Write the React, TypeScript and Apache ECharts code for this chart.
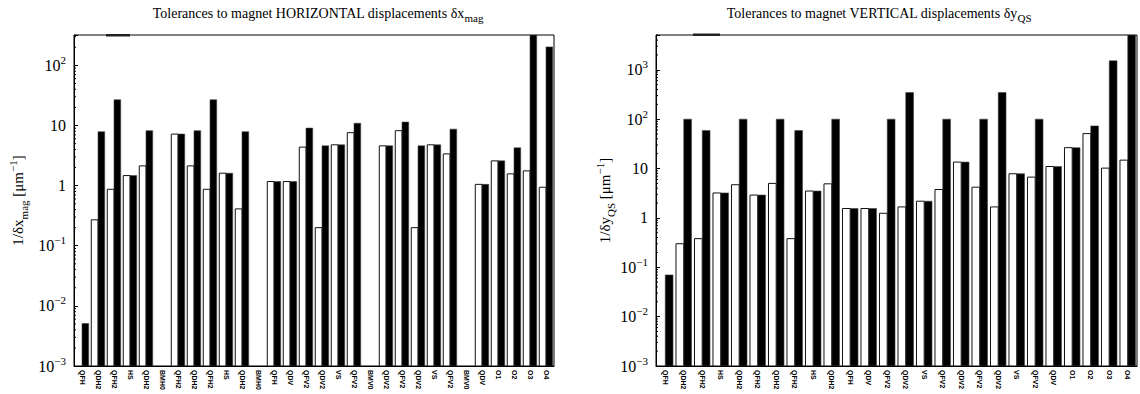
import React, { useEffect, useRef } from 'react';
import * as echarts from 'echarts';

// Horizontal displacement tolerances 1/δx_mag [µm^-1]
const hCategories = [
  'QFH', 'QDH2', 'QFH2', 'HS', 'QDH2', 'BMH0', 'QFH2', 'QDH2', 'QFH2', 'HS',
  'QDH2', 'BMH0', 'QFH', 'QDV', 'QFV2', 'QDV2', 'VS', 'QFV2', 'BMV0', 'QDV2',
  'QFV2', 'QDV2', 'VS', 'QFV2', 'BMV0', 'QDV', 'O1', 'O2', 'O3', 'O4',
];
const hWhite = [
  null, 0.27, 0.87, 1.47, 2.13, null, 7.2, 2.13, 0.87, 1.61,
  0.41, null, 1.17, 1.17, 4.37, 0.2, 4.77, 7.6, null, 4.59,
  8.2, 0.2, 4.77, 3.37, null, 1.05, 2.58, 1.57, 1.76, 0.94,
];
const hBlack = [
  0.0051, 7.9, 26.8, 1.47, 8.2, null, 7.2, 8.2, 26.8, 1.61,
  7.9, null, 1.17, 1.17, 9.05, 4.59, 4.77, 10.9, null, 4.59,
  11.4, 4.59, 4.77, 8.7, null, 1.05, 2.58, 4.25, 320, 203,
];

// Vertical displacement tolerances 1/δy_QS [µm^-1]
const vCategories = [
  'QFH', 'QDH2', 'QFH2', 'HS', 'QDH2', 'QFH2', 'QDH2', 'QFH2', 'HS', 'QDH2',
  'QFH', 'QDV', 'QFV2', 'QDV2', 'VS', 'QFV2', 'QDV2', 'QFV2', 'QDV2', 'VS',
  'QFV2', 'QDV', 'O1', 'O2', 'O3', 'O4',
];
const vWhite = [
  null, 0.3, 0.38, 3.2, 4.7, 2.9, 5.0, 0.38, 3.5, 4.9,
  1.55, 1.55, 1.24, 1.67, 2.18, 3.76, 13.5, 4.19, 1.67, 7.84,
  6.7, 11.0, 26.5, 51, 10.2, 14.8,
];
const vBlack = [
  0.07, 100, 59, 3.2, 100, 2.9, 100, 59, 3.5, 100,
  1.55, 1.55, 100, 347, 2.18, 100, 13.5, 100, 347, 7.84,
  100, 11.0, 26.5, 73, 1520, 5070,
];

const titles = [
  'Tolerances to magnet HORIZONTAL displacements δx{sub|mag}',
  'Tolerances to magnet VERTICAL displacements δy{sub|QS}',
];
const axisNames = [
  '1/δx{sub|mag} [μm{sup|\u22121}]',
  '1/δy{sub|QS} [μm{sup|\u22121}]',
];

const AXIS_MIN = 0.001;

const SERIF = '"Liberation Serif", "DejaVu Serif", serif';
const SANS = '"Liberation Sans", Arial, sans-serif';

const GRIDS = [
  { left: 74, top: 35, width: 480, height: 331 },
  { left: 656, top: 35, width: 481, height: 331 },
];
const TITLE_CENTERS = [318, 879];

const seriesMax = (a: (number | null)[], b: (number | null)[]) =>
  Math.max(...(a.filter((v) => v != null) as number[]), ...(b.filter((v) => v != null) as number[]));

function powLabel(v: number): string {
  const e = Math.log10(v);
  const r = Math.round(e);
  if (Math.abs(e - r) > 1e-6) return '';
  if (r === 0) return '1';
  if (r === 1) return '10';
  return `{b|10}{s|${r < 0 ? '\u2212' + -r : r}}`;
}

function makeBarRenderer(side: 'white' | 'black') {
  return (_params: any, api: any) => {
    const v = api.value(1);
    if (!(v > 0)) return null;
    const cat = api.value(0);
    const top = api.coord([cat, v]);
    const base = api.coord([cat, AXIS_MIN]);
    const bw = api.size([1, 0])[0];
    const w = bw * 0.42;
    const x = side === 'white' ? top[0] - w : top[0];
    return {
      type: 'rect',
      shape: { x, y: top[1], width: w, height: base[1] - top[1] },
      style:
        side === 'white'
          ? { fill: '#fff', stroke: '#111', lineWidth: 1 }
          : { fill: '#000', stroke: '#444', lineWidth: 0.6 },
    };
  };
}

export default function App() {
  const ref = useRef<HTMLDivElement>(null);

  useEffect(() => {
    if (!ref.current) return;
    const chart = echarts.init(ref.current, undefined, { renderer: 'svg' });

    const cats = [hCategories, vCategories];
    const whites = [hWhite, vWhite];
    const blacks = [hBlack, vBlack];
    const maxes = [seriesMax(hWhite, hBlack), seriesMax(vWhite, vBlack)];

    const series: any[] = [];
    [0, 1].forEach((i) => {
      series.push({
        type: 'custom',
        name: 'white' + i,
        xAxisIndex: i,
        yAxisIndex: i,
        clip: true,
        encode: { x: 0, y: 1 },
        renderItem: makeBarRenderer('white'),
        data: whites[i].map((v, k) => [k, v == null ? '-' : v]),
      });
      series.push({
        type: 'custom',
        name: 'black' + i,
        xAxisIndex: i,
        yAxisIndex: i,
        clip: true,
        encode: { x: 0, y: 1 },
        renderItem: makeBarRenderer('black'),
        data: blacks[i].map((v, k) => [k, v == null ? '-' : v]),
      });
    });

    chart.setOption({
      animation: false,
      backgroundColor: '#fff',
      grid: GRIDS.map((g) => ({
        ...g,
        show: true,
        borderColor: '#000',
        borderWidth: 1,
        backgroundColor: 'transparent',
      })),
      xAxis: [0, 1].map((i) => ({
        type: 'category',
        gridIndex: i,
        data: cats[i],
        boundaryGap: true,
        axisLine: { show: true, lineStyle: { color: '#000', width: 1 } },
        axisTick: { show: false },
        splitLine: { show: false },
        axisLabel: {
          interval: 0,
          rotate: -90,
          fontSize: 7,
          fontWeight: 'bold',
          fontFamily: SANS,
          color: '#000',
          margin: 4,
        },
      })),
      yAxis: [0, 1].map((i) => ({
        type: 'log',
        logBase: 10,
        gridIndex: i,
        min: AXIS_MIN,
        max: maxes[i],
        splitLine: { show: false },
        axisLine: { show: true, lineStyle: { color: '#000', width: 1 } },
        axisTick: { show: true, inside: true, length: 4, lineStyle: { color: '#000' } },
        axisLabel: {
          formatter: powLabel,
          fontFamily: SERIF,
          fontSize: 16,
          color: '#000',
          margin: 8,
          rich: {
            b: { fontFamily: SERIF, fontSize: 16, color: '#000', lineHeight: 22 },
            s: { fontFamily: SERIF, fontSize: 11, color: '#000', lineHeight: 11, verticalAlign: 'top' },
          },
        },
        name: axisNames[i],
        nameLocation: 'middle',
        nameRotate: 90,
        nameGap: i === 0 ? 45 : 40,
        nameTextStyle: {
          fontFamily: SERIF,
          fontSize: 15,
          color: '#000',
          lineHeight: 22,
          rich: {
            sub: { fontFamily: SERIF, fontSize: 11, color: '#000', lineHeight: 11, verticalAlign: 'bottom' },
            sup: { fontFamily: SERIF, fontSize: 11, color: '#000', lineHeight: 11, verticalAlign: 'top' },
          },
        },
      })),
      series,
    });

    // Log-spaced minor ticks along each value axis, plus titles
    const graphics: any[] = [];
    [0, 1].forEach((i) => {
      const g = GRIDS[i];
      for (let d = -3; d <= 4; d++) {
        for (let m = 2; m <= 9; m++) {
          const v = m * Math.pow(10, d);
          if (v >= maxes[i]) continue;
          const y = chart.convertToPixel({ yAxisIndex: i } as any, v) as unknown as number;
          graphics.push({
            type: 'line',
            silent: true,
            shape: { x1: g.left, y1: y, x2: g.left + 2, y2: y },
            style: { stroke: '#000', lineWidth: 1 },
          });
        }
      }
      graphics.push({
        type: 'text',
        silent: true,
        x: TITLE_CENTERS[i],
        y: 13,
        style: {
          text: titles[i],
          align: 'center',
          verticalAlign: 'middle',
          fontFamily: SERIF,
          fontSize: 14,
          lineHeight: 21,
          fill: '#000',
          rich: {
            sub: { fontFamily: SERIF, fontSize: 11, fill: '#000', lineHeight: 11, verticalAlign: 'bottom' },
          },
        },
      });
    });
    // short heavy stroke on the top frame of each panel
    graphics.push({
      type: 'rect',
      silent: true,
      shape: { x: 106, y: 34, width: 24, height: 2.5 },
      style: { fill: '#222' },
    });
    graphics.push({
      type: 'rect',
      silent: true,
      shape: { x: 693, y: 33.5, width: 27, height: 2.5 },
      style: { fill: '#222' },
    });
    chart.setOption({ graphic: graphics });

    return () => chart.dispose();
  }, []);

  return (
    <div
      ref={ref}
      style={{ position: 'absolute', left: 0, top: 0, width: 1140, height: 394 }}
    />
  );
}
